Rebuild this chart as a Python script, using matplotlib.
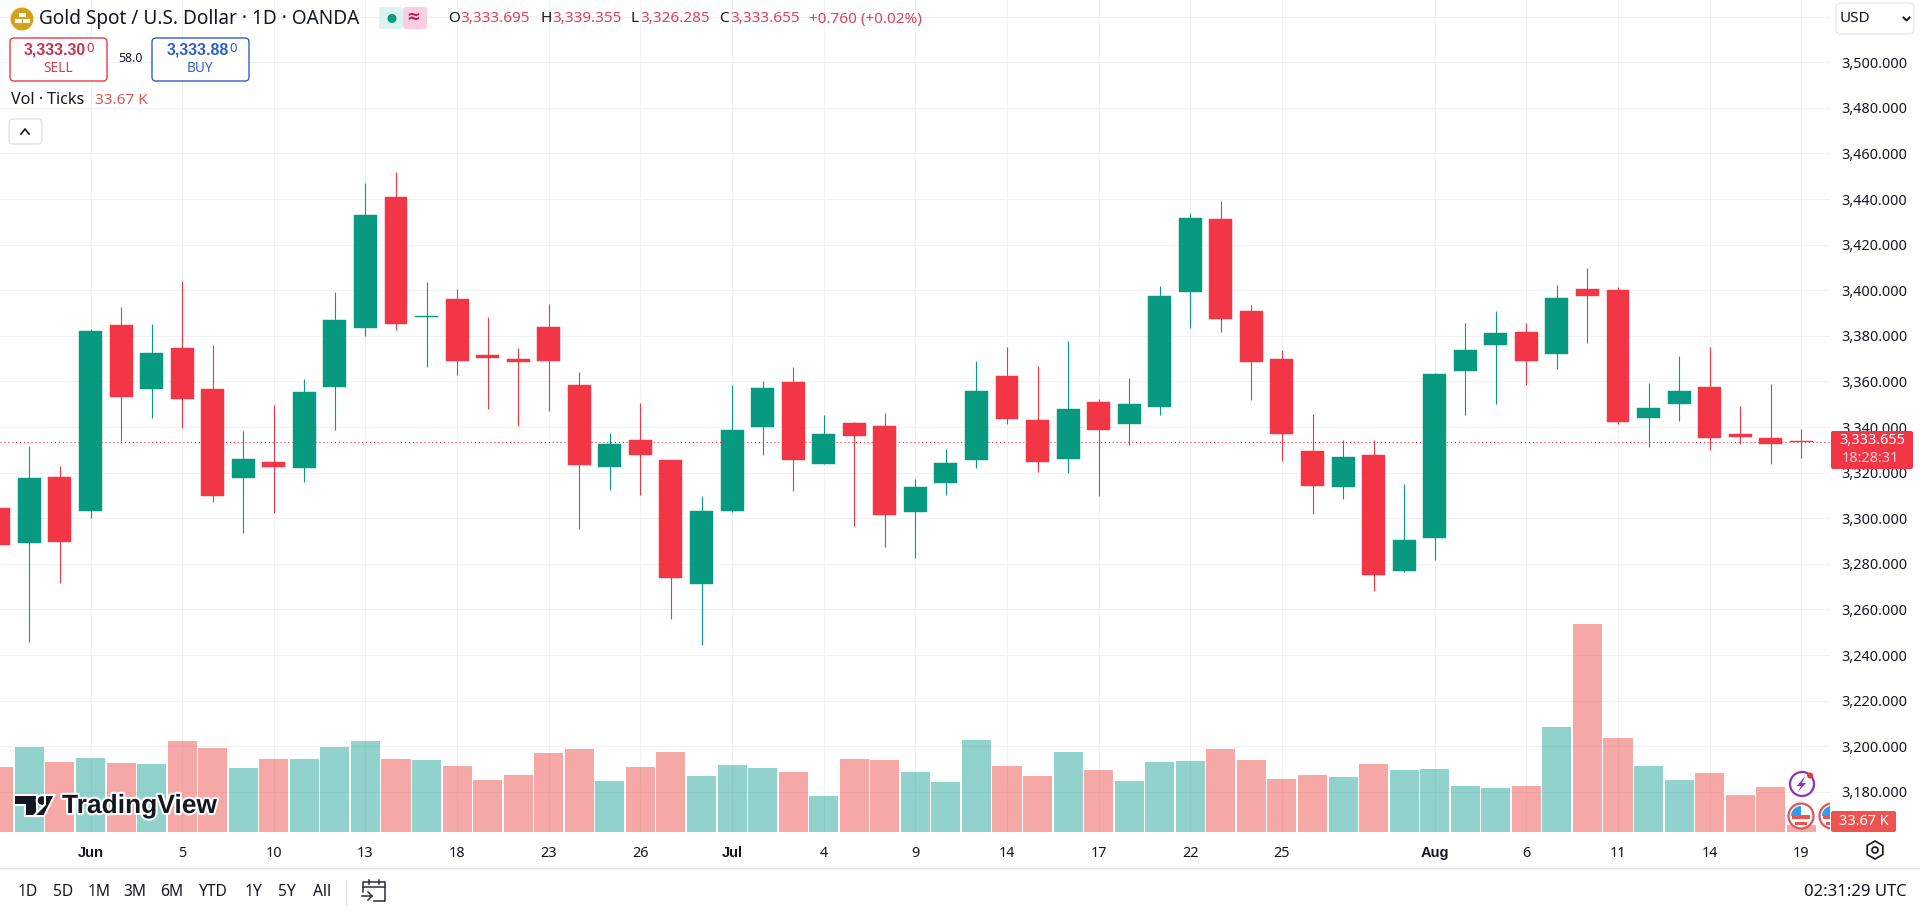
import matplotlib
matplotlib.use("Agg")
import matplotlib.pyplot as plt
import matplotlib.patheffects as pe
from matplotlib.patches import Circle, FancyBboxPatch, Polygon, Rectangle, RegularPolygon, Wedge

W, H = 1920, 911
GREEN, RED = "#089981", "#F23645"
TXT = "#131722"
BOLD = ["Liberation Sans", "DejaVu Sans"]
plt.rcParams["font.family"] = ["Noto Sans", "DejaVu Sans"]

# ---- data ----
opens = [3304.5,3289.3,3318.1,3303.3,3384.8,3356.9,3374.7,3356.7,3317.8,3324.7,3322.2,3357.7,3383.6,3440.9,3388.4,3396.2,
         3371.6,3369.9,3383.9,3358.5,3322.6,3334.3,3325.5,3271.3,3303.3,3340.2,3359.8,3323.9,3341.8,3340.5,3302.9,3315.6,
         3325.7,3362.4,3343.1,3326.2,3351.0,3341.5,3348.9,3399.4,3431.3,3390.9,3369.9,3329.5,3313.9,3327.8,3277.0,3291.5,
         3364.7,3376.2,3381.7,3372.2,3400.6,3400.1,3344.1,3350.3,3357.6,3337.0,3335.2,3333.695]
closes = [3288.3,3317.7,3289.7,3382.1,3353.3,3372.5,3352.5,3309.9,3326.0,3322.6,3355.4,3387.0,3433.0,3385.4,3388.9,3369.1,
          3370.4,3368.7,3369.1,3323.5,3332.6,3327.9,3274.0,3303.2,3338.7,3357.1,3325.7,3337.0,3336.2,3301.6,3313.7,3324.2,
          3355.8,3343.7,3324.8,3347.9,3338.9,3350.1,3397.5,3431.7,3387.5,3368.7,3337.1,3314.3,3326.9,3275.3,3290.5,3363.3,
          3373.8,3381.3,3369.1,3396.6,3397.6,3342.4,3348.4,3355.8,3335.4,3335.8,3332.7,3333.655]
highs = [3306.0,3331.7,3322.9,3383.0,3392.7,3385.2,3404.1,3375.9,3338.3,3349.7,3360.9,3399.1,3447.0,3451.9,3403.6,3400.4,
         3388.3,3374.7,3394.0,3364.2,3337.4,3350.6,3325.5,3309.8,3358.5,3360.2,3366.4,3345.3,3342.2,3346.2,3317.2,3330.4,
         3369.0,3375.1,3366.8,3377.8,3352.3,3361.5,3401.9,3433.9,3439.2,3393.5,3373.8,3345.7,3334.3,3334.3,3315.0,3363.7,
         3385.7,3390.9,3385.7,3402.3,3409.8,3401.4,3359.3,3371.2,3375.1,3349.2,3358.9,3339.355]
lows = [3285.0,3245.9,3271.8,3300.1,3333.8,3344.1,3339.7,3307.3,3293.7,3302.5,3316.1,3338.9,3380.1,3382.7,3366.5,3363.0,
        3348.1,3340.5,3347.0,3295.4,3312.5,3310.4,3256.0,3244.4,3302.9,3327.9,3312.1,3323.9,3296.8,3287.6,3282.7,3310.4,
        3322.2,3341.5,3320.4,3320.0,3309.9,3332.3,3345.4,3383.6,3381.9,3352.0,3325.3,3302.0,3308.6,3268.2,3276.6,3281.8,
        3345.4,3350.3,3358.5,3365.6,3377.0,3341.5,3331.4,3342.8,3330.1,3332.7,3323.9,3326.285]
volumes_k = [328,428,352,372,347,342,458,423,322,367,367,428,458,367,362,332,261,286,397,418,256,327,402,281,337,322,301,180,
             367,362,301,251,463,332,281,402,311,256,352,357,418,362,266,286,276,342,311,316,231,221,231,529,1049,473,332,
             261,296,185,226,33.67]
price_ticks = list(range(3180, 3501, 20))
date_labels = ["Jun","5","10","13","18","23","26","Jul","4","9","14","17","22","25","Aug","6","11","14","19"]
date_index = [3,6,9,12,15,18,21,24,27,30,33,36,39,42,47,50,53,56,59]
bold_dates = {"Jun","Jul","Aug"}
last_price = 3333.655
ranges = ["1D","5D","1M","3M","6M","YTD","1Y","5Y","All"]
range_x = [28,63,99,135,172,213,253,287,322]

# ---- figure and axes ----
fig = plt.figure(figsize=(W/100, H/100), dpi=100, facecolor="white")
PLOT_R, PLOT_B = 1830, 832
rect = [0, 1-PLOT_B/H, PLOT_R/W, PLOT_B/H]
ax = fig.add_axes(rect, zorder=1)
y_top = 3460 + 153.5/2.28
y_bot = 3460 - (PLOT_B-153.5)/2.28
ax.set_ylim(y_bot, y_top)
ax.set_xlim(3-90.5/30.55, 3+(PLOT_R-90.5)/30.55)
for s in ax.spines.values():
    s.set_visible(False)
ax.set_axisbelow(True)
ax.grid(True, color="#F1F2F5", lw=0.8)
ax.yaxis.tick_right()
ax.set_yticks(price_ticks + [3520])
ax.set_yticklabels([f"{p:,.3f}" for p in price_ticks] + [""], fontsize=10.4, color=TXT)
ax.tick_params(axis="y", length=0, pad=8, left=False, labelleft=False, right=False, labelright=True)
ax.set_xticks(date_index)
ax.set_xticklabels(date_labels, fontsize=10.4, color=TXT)
for t, lab in zip(ax.get_xticklabels(), date_labels):
    if lab in bold_dates:
        t.set_fontweight("bold")
        t.set_fontfamily(BOLD)
        t.set_fontsize(10.6)
ax.tick_params(axis="x", length=0, pad=10)

xs = list(range(len(opens)))
cols = [GREEN if c >= o else RED for o, c in zip(opens, closes)]
ax.vlines(xs, lows, highs, colors=cols, lw=0.8, zorder=3)
ax.bar(xs, [c-o for o, c in zip(opens, closes)], bottom=opens, width=0.75, color=cols, edgecolor=cols, lw=0.3, zorder=4)
ax.axhline(last_price, color=RED, lw=0.8, ls=(0, (1, 2.5)), zorder=2)

vol = fig.add_axes(rect, zorder=2, sharex=ax)
vol.patch.set_visible(False)
vol.set_ylim(0, PLOT_B/0.198)
vol.axis("off")
vcols = ["#26A69A" if c == GREEN else "#EF5350" for c in cols]
vol.bar(xs, volumes_k, width=0.95, color=vcols, alpha=0.5, lw=0)

# ---- interface elements, placed in pixels ----
ui = fig.add_axes([0, 0, 1, 1], zorder=3)
ui.set_xlim(0, W)
ui.set_ylim(H, 0)
ui.axis("off")

def label(x, y, s, size=10.4, color=TXT, ha="left", weight="normal", **kw):
    return ui.text(x, y, s, fontsize=size, color=color, ha=ha, va="center", fontweight=weight, **kw)

def box(x0, y0, x1, y1, fc="white", ec="none", lw=1, r=4, z=2):
    ui.add_patch(FancyBboxPatch((x0+r, y0+r), x1-x0-2*r, y1-y0-2*r, boxstyle=f"round,pad={r}", fc=fc, ec=ec, lw=lw, zorder=z))

ui.plot([0, W], [867.5, 867.5], color="#E0E3EB", lw=1)

# title row
ui.add_patch(Circle((22, 19), 11.5, fc="#D6A01E", ec="none"))
ui.add_patch(Rectangle((18.5, 12.5), 7, 4.5, fc="white"))
ui.add_patch(Rectangle((14.5, 18.5), 7, 4.5, fc="white"))
ui.add_patch(Rectangle((22.5, 18.5), 7, 4.5, fc="white"))
label(39, 19, "Gold Spot / U.S. Dollar · 1D · OANDA", size=13.7)
box(379, 7, 403, 29, fc="#DDF3F0", r=3)
box(403, 7, 427, 29, fc="#F9CFE1", r=3)
ui.add_patch(Circle((392, 18.5), 4.5, fc=GREEN, zorder=4))
label(413, 18, "≈", size=12, color="#C2185B", ha="center", weight="bold", zorder=4)
HRED = "#E0405A"
for x, s, c in [(448,"O",TXT),(460,"3,333.695",HRED),(540,"H",TXT),(552,"3,339.355",HRED),(630,"L",TXT),
                (640,"3,326.285",HRED),(719,"C",TXT),(730,"3,333.655",HRED),(809,"+0.760 (+0.02%)",HRED)]:
    label(x, 19, s, size=11, color=c)

# sell / buy
box(10, 38, 107, 81, ec=RED)
box(152, 38, 249, 81, ec="#2F5FC8")
label(86, 50, "3,333.30", size=11.4, color="#C8324B", ha="right", weight="bold", family=BOLD)
label(86.5, 48.5, "0", size=9.5, color="#C8324B")
label(58, 68, "SELL", size=9.8, color="#D8404F", ha="center")
label(130, 59, "58.0", size=8.8, ha="center")
label(229, 50, "3,333.88", size=11.4, color="#2F5FC8", ha="right", weight="bold", family=BOLD)
label(229.5, 48.5, "0", size=9.5, color="#2F5FC8")
label(200, 68, "BUY", size=9.8, color="#2F5FC8", ha="center")
label(11, 100, "Vol · Ticks", size=11.6)
label(95, 100, "33.67 K", size=11, color="#E05555")
box(9, 119, 42, 144, ec="#E0E3EB")
ui.plot([21, 25, 29], [134, 129, 134], color=TXT, lw=1.2)

# currency box
box(1836, 3, 1914, 34, ec="#E8EAF0", r=5)
label(1840, 19, "USD", size=11)
ui.plot([1903.5, 1906.5, 1909.5], [17.5, 20.5, 17.5], color=TXT, lw=1.4)

# last price tags
box(1831, 431, 1913, 469, fc=RED, r=2, z=5)
ui.text(1872, 441, f"{last_price:,.3f}", fontsize=10.4, color="white", ha="center", va="center", zorder=6)
ui.text(1842, 459, "18:28:31", fontsize=10.4, color="#FBD0D5", ha="left", va="center", zorder=6)
box(1831, 811, 1896, 832, fc="#EF5350", r=2, z=5)
ui.text(1863.5, 821.5, "33.67 K", fontsize=10.4, color="white", ha="center", va="center", zorder=6)
ui.add_patch(RegularPolygon((1875, 850), 6, radius=9, fc="none", ec=TXT, lw=1.2))
ui.add_patch(Circle((1875, 850), 3, fc="none", ec=TXT, lw=1.2))

# event icons
ui.add_patch(Circle((1802, 784), 12, fc="white", ec="#8E33B8", lw=1.6))
ui.add_patch(Polygon([(1805,776),(1797,786),(1801,786),(1798,792),(1806,783),(1802,783)], fc="#8E33B8"))
ui.add_patch(Circle((1810, 775.5), 3, fc="#E53935"))
for cx in (1801, 1832):
    clip = Rectangle((1700, 790), 130, 50, transform=ui.transData)
    c = Circle((cx, 816), 12.5, fc="white", ec="#E0545A", lw=1.6, zorder=3); ui.add_patch(c); c.set_clip_path(clip)
    stripe = Rectangle((cx-9, 815), 18, 4, fc="#EF5350", zorder=3); ui.add_patch(stripe); stripe.set_clip_path(clip)
    stripe = Rectangle((cx-6, 822), 12, 2.5, fc="#EF5350", zorder=3); ui.add_patch(stripe); stripe.set_clip_path(clip)
    canton = Wedge((cx, 816), 10, 180, 270, fc="#2E9BF0", zorder=3); ui.add_patch(canton); canton.set_clip_path(clip)

# watermark
halo = [pe.withStroke(linewidth=3, foreground="white")]
for p in [Polygon([(15,796),(36,796),(36,815),(26,815),(26,804),(15,804)], fc="#131722"),
          Circle((42, 800.5), 4.3, fc="#131722"),
          Polygon([(46,805),(46,796),(53,796),(43.5,815),(36,815)], fc="#131722")]:
    p.set_path_effects(halo)
    ui.add_patch(p)
label(62, 806, "TradingView", size=19, color="#131722", weight="bold", family=BOLD, path_effects=halo)

# range bar
for x, s in zip(range_x, ranges):
    label(x, 892, s, size=11.2, ha="center")
ui.plot([346, 346], [880, 904], color="#E0E3EB", lw=1)
ui.plot([363, 363, 385, 385, 380, 374], [892, 882, 882, 901, 901, 901], color="#2A2E39", lw=1.1)
ui.plot([363, 385], [887, 887], color="#2A2E39", lw=1.1)
ui.plot([369, 369], [880, 884], color="#2A2E39", lw=1.1)
ui.plot([379, 379], [880, 884], color="#2A2E39", lw=1.1)
ui.plot([362, 372], [896, 896], color="#2A2E39", lw=1.1)
ui.plot([368, 372, 368], [892, 896, 900], color="#2A2E39", lw=1.1)
label(1907, 892, "02:31:29 UTC", size=12, ha="right")

fig.savefig("out.png", dpi=100)
